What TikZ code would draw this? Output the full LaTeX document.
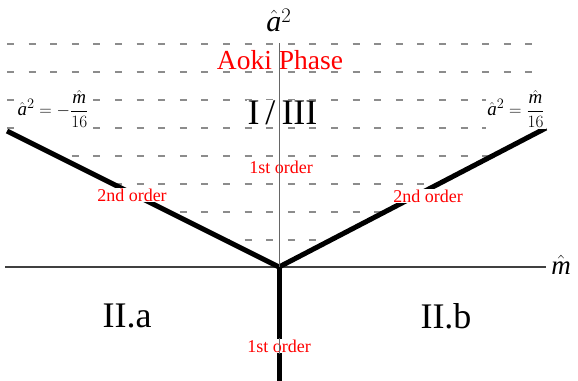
\documentclass[tikz,border=0pt]{standalone}
\usepackage{fontspec}
\setmainfont{Liberation Serif}
\begin{document}
\begin{tikzpicture}[x=1pt,y=-1pt,
  grid/.style={draw=black!45,line width=1.3pt,dash pattern=on 7pt off 14.6pt},
  phase/.style={draw=black,line width=5pt},
  vaxis/.style={draw=black!60,line width=1pt},
  haxis/.style={draw=black!75,line width=1.1pt},
  redlbl/.style={text=red,fill=white,inner sep=1pt,font=\rmfamily\fontsize{18}{20}\selectfont},
  biglbl/.style={fill=white,inner sep=1pt,font=\rmfamily\fontsize{36}{40}\selectfont},
  eqlbl/.style={fill=white,inner sep=1pt,font=\rmfamily\fontsize{19}{21}\selectfont}]
\useasboundingbox (0,0) rectangle (578,380);
\coordinate (O) at (279,267);
\coordinate (L) at (7,131);
\coordinate (R) at (546,128);
\coordinate (B) at (279,382);
\coordinate (Yt) at (279,43);
\coordinate (Xl) at (5,267);
\coordinate (Xr) at (546,267);
% dashed grid inside the V
\begin{scope}
  \clip (O) -- (-50,102.5) -- (-50,-10) -- (630,-10) -- (630,84.3) -- cycle;
  \foreach \yy in {44,72,100,128,156,184,212,240}
    \draw[grid] (7,\yy) -- (537,\yy);
\end{scope}
% axes (lower vertical part below)
\draw[haxis] (Xl) -- (Xr);
\draw[vaxis] (O) -- (B);
% phase boundaries
\draw[phase] (L) -- (O) -- (R);
\draw[phase] (O) -- (B);
% labels
\node[font=\rmfamily\fontsize{30}{32}\selectfont] (ya) at (279,20) {$\hat{\mathit{a}}^2$};
\node[font=\rmfamily\fontsize{27}{29}\selectfont] (xm) at (561,265) {$\hat{\mathit{m}}$};
\node[text=red,fill=white,inner sep=1pt,font=\rmfamily\fontsize{27.5}{30}\selectfont] (aoki) at (280,60) {Aoki Phase};
\node[biglbl] (I3) at (282.5,113) {I\,/\,III};
\node[redlbl] (o1) at (281,167) {1st order};
\node[redlbl] (o2l) at (132,195) {2nd order};
\node[redlbl] (o2r) at (428,196) {2nd order};
\node[biglbl,fill=none] (IIa) at (127,316) {II.a};
\node[biglbl,fill=none] (IIb) at (446,316) {II.b};
\node[redlbl] (o1b) at (279,346) {1st order};
\node[eqlbl] (eql) at (53,109) {$\displaystyle \hat{\mathit{a}}^2=-\frac{\hat{\mathit{m}}}{16}$};
\node[eqlbl] (eqr) at (516,109) {$\displaystyle \hat{\mathit{a}}^2=\frac{\hat{\mathit{m}}}{16}$};
% vertical axis on top of labels
\draw[vaxis] (Yt) -- (O);
\draw[vaxis] (o1b.north) -- (o1b.south);
\end{tikzpicture}
\end{document}
